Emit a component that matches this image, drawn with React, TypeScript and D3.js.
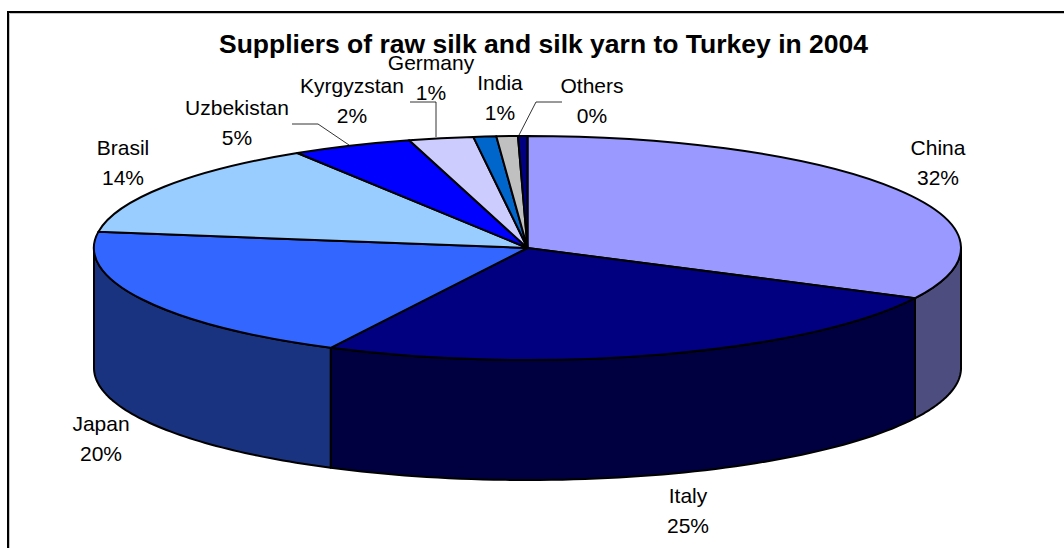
import React from "react";
import * as d3 from "d3";

const suppliers = ["China", "Italy", "Japan", "Brasil", "Uzbekistan", "Kyrgyzstan", "Germany", "India", "Others"];
const shares = [32.4, 25.1, 19.8, 13.8, 4.5, 2.4, 0.85, 0.8, 0.35];
const topColors = ["#9999FF", "#000080", "#3366FF", "#99CCFF", "#0000FF", "#CCCCFF", "#0066CC", "#C0C0C0", "#000080"];
const wallColors = ["#4D4D80", "#000040", "#1A3380", "#4D6680", "#000080", "#666680", "#003366", "#606060", "#000040"];
const labelCentres: [number, number][] = [
  [938, 147], [688, 495], [101, 423], [123, 147], [237, 107],
  [352, 85], [431, 62], [500, 82], [592, 85],
];

const WIDTH = 1064;
const HEIGHT = 548;
const CX = 527.5;
const CY = 248;
const RX = 433.5;
const RY = 112;
const DEPTH = 120;

type Slice = d3.PieArcDatum<number>;

const pie = d3.pie<number>().sort(null).value((d) => d);
const slices: Slice[] = pie(shares);

// Points on the tilted disc; angles run clockwise from twelve o'clock.
const px = (a: number) => CX + RX * Math.sin(a);
const py = (a: number) => CY - RY * Math.cos(a);

const unitArc = d3.arc<Slice>().innerRadius(0).outerRadius(1);
const pathLine = d3.line<[number, number]>();

// Outer wall of a slice, clipped to the front half of the disc.
function wallPath(s: Slice): string | null {
  const a0 = Math.max(s.startAngle, Math.PI / 2);
  const a1 = Math.min(s.endAngle, (3 * Math.PI) / 2);
  if (a1 <= a0) return null;
  const angles = d3.range(0, 61).map((i) => a0 + ((a1 - a0) * i) / 60);
  const top = angles.map((a): [number, number] => [px(a), py(a)]);
  const bottom = angles.slice().reverse().map((a): [number, number] => [px(a), py(a) + DEPTH]);
  return pathLine([...top, ...bottom]) + "Z";
}

export default function App() {
  const font = "'Liberation Sans', Arial, sans-serif";
  return (
    <svg
      width={WIDTH}
      height={HEIGHT}
      viewBox={`0 0 ${WIDTH} ${HEIGHT}`}
      style={{ position: "absolute", left: 0, top: 0, display: "block", background: "#fff" }}
    >
      {/* Chart frame: only its top and left edges fall inside the page */}
      <path d={`M9.5 ${HEIGHT}V13.5H${WIDTH}`} fill="none" stroke="#c4c4c4" strokeWidth={1} />
      <path d={`M8 ${HEIGHT}V12H${WIDTH}`} fill="none" stroke="#000" strokeWidth={2} />

      <text x={543.5} y={52.5} textAnchor="middle" fontFamily={font} fontWeight="bold" fontSize={26.5} fill="#000">
        Suppliers of raw silk and silk yarn to Turkey in 2004
      </text>

      {slices.map((s, i) => {
        const d = wallPath(s);
        return d ? <path key={suppliers[i]} d={d} fill={wallColors[i]} stroke="#000" strokeWidth={2} strokeLinejoin="round" /> : null;
      })}

      <g transform={`translate(${CX},${CY}) scale(${RX},${RY})`}>
        {slices.map((s, i) => (
          <path
            key={suppliers[i]}
            d={unitArc(s) ?? ""}
            fill={topColors[i]}
            stroke="#000"
            strokeWidth={2}
            strokeLinejoin="round"
            vectorEffect="non-scaling-stroke"
          />
        ))}
      </g>

      {/* Leader lines for the labels set away from their slices */}
      <path d={pathLine([[292, 124], [318, 124], [349, 145]]) ?? ""} fill="none" stroke="#000" strokeWidth={0.8} />
      <path d={pathLine([[410, 102], [436, 102], [436, 137]]) ?? ""} fill="none" stroke="#000" strokeWidth={0.8} />
      <path d={pathLine([[562, 102], [536, 102], [518, 137]]) ?? ""} fill="none" stroke="#000" strokeWidth={0.8} />

      {suppliers.map((name, i) => (
        <text key={name} textAnchor="middle" fontFamily={font} fontSize={21} fill="#000">
          <tspan x={labelCentres[i][0]} y={labelCentres[i][1] + 7.5}>{name}</tspan>
          <tspan x={labelCentres[i][0]} y={labelCentres[i][1] + 37.5}>{`${Math.round(shares[i])}%`}</tspan>
        </text>
      ))}
    </svg>
  );
}
